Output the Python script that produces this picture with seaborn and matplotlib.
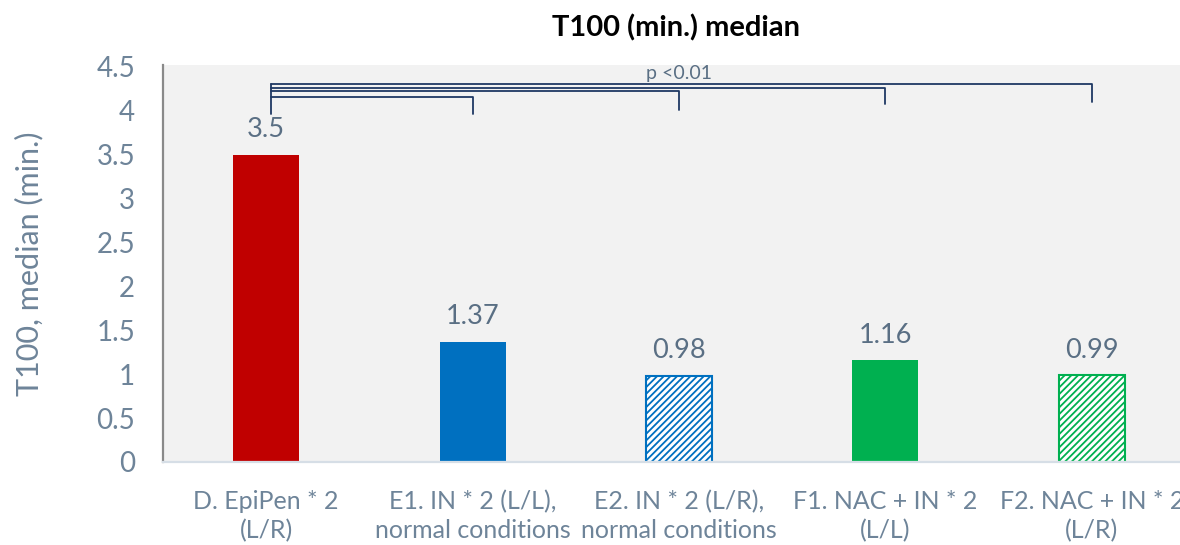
import matplotlib
matplotlib.use("Agg")
import matplotlib.pyplot as plt
import seaborn as sns
import pandas as pd

# Data
categories = [
    "D. EpiPen * 2\n(L/R)",
    "E1. IN * 2 (L/L),\nnormal conditions",
    "E2. IN * 2 (L/R),\nnormal conditions",
    "F1. NAC + IN * 2\n(L/L)",
    "F2. NAC + IN * 2\n(L/R)",
]
t100_median = [3.5, 1.37, 0.98, 1.16, 0.99]
bar_colors = ["#C00000", "#0070C0", "#0070C0", "#00B050", "#00B050"]
hatched = [False, False, True, False, True]
y_ticks = [0, 0.5, 1, 1.5, 2, 2.5, 3, 3.5, 4, 4.5]
y_tick_labels = ["0", "0.5", "1", "1.5", "2", "2.5", "3", "3.5", "4", "4.5"]
significance_text = "p <0.01"

df = pd.DataFrame({"group": categories, "t100": t100_median})

sns.set_theme(style="white")
plt.rcParams["font.family"] = ["Lato", "DejaVu Sans"]
plt.rcParams["hatch.linewidth"] = 1.3

TICK = "#6E8499"
VALUE = "#5A6F84"

fig = plt.figure(figsize=(11.8, 5.45), dpi=100)
ax = fig.add_axes([163 / 1180, 83 / 545, 1032 / 1180, 397 / 545])
ax.set_facecolor("#F2F2F2")

sns.barplot(data=df, x="group", y="t100", hue="group", palette=bar_colors,
            width=0.32, saturation=1, legend=False, ax=ax)

for patch, col, h in zip(ax.patches, bar_colors, hatched):
    if h:
        patch.set_facecolor("white")
        patch.set_edgecolor(col)
        patch.set_hatch("/////")
        patch.set_linewidth(1.5)
    else:
        patch.set_edgecolor(col)
        patch.set_linewidth(0)

for cont in ax.containers:
    ax.bar_label(cont, fmt="{:g}", padding=9, fontsize=19.5, color=VALUE)

ax.set_ylim(0, 4.52)
ax.set_xlim(-0.5, 4.5)
ax.set_yticks(y_ticks)
ax.set_yticklabels(y_tick_labels, fontsize=20, color=TICK)
ax.tick_params(axis="y", length=0, pad=20)
ax.tick_params(axis="x", length=0, pad=20, labelsize=18, labelcolor=TICK)
for lbl in ax.get_xticklabels():
    lbl.set_linespacing(1.3)
ax.set_xlabel("")
ax.set_ylabel("T100, median (min.)", fontsize=22, color=TICK)
ax.yaxis.set_label_coords(-120 / 1032, 0.5)

for side in ["top", "right"]:
    ax.spines[side].set_visible(False)
ax.spines["left"].set_color("#8A8A8A")
ax.spines["left"].set_linewidth(1.6)
ax.spines["bottom"].set_color("#D6DEE6")
ax.spines["bottom"].set_linewidth(1.6)

# Significance brackets from group D to each other group
bracket_color = "#1F3864"
x_left = 0.025
levels = [(1, 4.16, 3.96), (2, 4.225, 4.01), (3, 4.26, 4.08), (4, 4.30, 4.10)]
ax.plot([x_left, x_left], [3.96, 4.30], color=bracket_color, lw=1.3)
for xr, ytop, yend in levels:
    ax.plot([x_left, xr, xr], [ytop, ytop, yend], color=bracket_color, lw=1.3)
ax.text(2.0, 4.33, significance_text, ha="center", va="bottom",
        fontsize=14, color=VALUE)

fig.text(676 / 1180, 1 - 28 / 545, "T100 (min.) median", ha="center",
         va="center", fontsize=21, fontweight="bold", color="black")
fig.text(1090 / 1180, 1 + 2 / 545, "conditions", ha="left", va="baseline",
         fontsize=17, color=TICK)

fig.savefig("out.png", dpi=100)
